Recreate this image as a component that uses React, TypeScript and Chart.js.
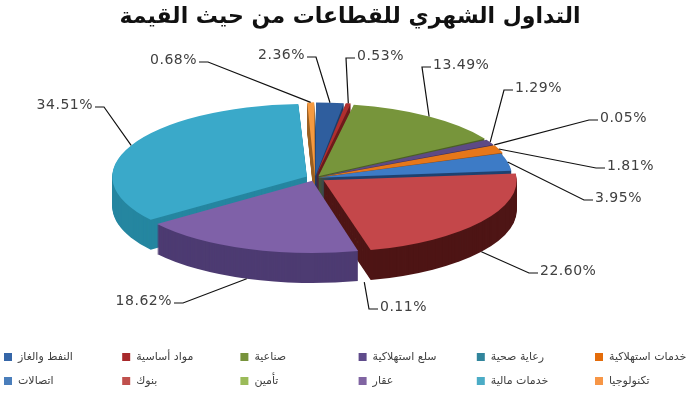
import React, { useEffect, useRef } from "react";
import { Chart, registerables } from "chart.js";

Chart.register(...registerables);

const chartTitle = "التداول الشهري للقطاعات من حيث القيمة";
const sectors = [
  "النفط والغاز",
  "مواد أساسية",
  "صناعية",
  "سلع استهلاكية",
  "رعاية صحية",
  "خدمات استهلاكية",
  "اتصالات",
  "بنوك",
  "تأمين",
  "عقار",
  "خدمات مالية",
  "تكنولوجيا",
];
const shares = [2.36, 0.53, 13.49, 1.29, 0.05, 1.81, 3.95, 22.6, 0.11, 18.62, 34.51, 0.68];
const valueLabels = ["2.36%", "0.53%", "13.49%", "1.29%", "0.05%", "1.81%", "3.95%", "22.60%", "0.11%", "18.62%", "34.51%", "0.68%"];

const topColors = [
  "#2f5e9e", "#b02f2f", "#77953b", "#5d4a85", "#2f8aa0", "#e6771a",
  "#3d7bc6", "#c4474a", "#a3c25f", "#7f61a8", "#3aa9c9", "#f59a40",
];
const sideColors = [
  "#1e3d68", "#6e1c1c", "#4b5f24", "#3b2e56", "#1d5766", "#934a10",
  "#1f4270", "#4e1515", "#4f6a22", "#4d3b72", "#2586a0", "#9c6024",
];
const legendColors = [
  "#3566a8", "#a8292b", "#77933c", "#5f4b8b", "#31859c", "#e46c0a",
  "#4a7ebb", "#c0504d", "#9bbb59", "#8064a2", "#4bacc6", "#f79646",
];
// explosion of each slice (Chart.js offset units)
const explode = [20, 20, 24, 14, 14, 14, 10, 42, 24, 32, 36, 20];

// label placement (text anchor x, y, side of elbow)
const labelSpots: { x: number; y: number; side: "L" | "R" }[] = [
  { x: 305, y: 55, side: "L" },
  { x: 357, y: 56, side: "R" },
  { x: 433, y: 65, side: "R" },
  { x: 515, y: 88, side: "R" },
  { x: 600, y: 118, side: "R" },
  { x: 607, y: 166, side: "R" },
  { x: 595, y: 198, side: "R" },
  { x: 540, y: 271, side: "R" },
  { x: 380, y: 307, side: "R" },
  { x: 172, y: 301, side: "L" },
  { x: 93, y: 105, side: "L" },
  { x: 197, y: 60, side: "L" },
];

const SQUASH = 0.373;
const DEPTH = 30;

function arcGeom(arc: any) {
  const p = arc.getProps(["x", "y", "startAngle", "endAngle", "outerRadius", "circumference"], true);
  const o = (arc.options.offset || 0) / 4;
  const h = (p.startAngle + p.endAngle) / 2;
  const fix = 1 - Math.sin(Math.min(Math.PI, p.circumference || 0));
  const ro = o * fix;
  const R = p.outerRadius + ro;
  const alpha = p.endAngle - p.startAngle;
  const beta = Math.max(0.001, alpha * R - ro / Math.PI) / R;
  const ao = (alpha - beta) / 2;
  return {
    baseY: p.y,
    cx: p.x + Math.cos(h) * o,
    cy: p.y + Math.sin(h) * o,
    R,
    a0: p.startAngle + ao,
    a1: p.endAngle - ao,
    h,
  };
}

function squash(ctx: CanvasRenderingContext2D, cy: number) {
  ctx.translate(0, cy);
  ctx.scale(1, SQUASH);
  ctx.translate(0, -cy);
}

const pie3d = {
  id: "pie3d",
  beforeDatasetsDraw(chart: any) {
    const ctx: CanvasRenderingContext2D = chart.ctx;
    const arcs = chart.getDatasetMeta(0).data;
    const geoms = arcs.map(arcGeom);
    const order = geoms.map((_: any, i: number) => i).sort((i: number, j: number) => Math.sin(geoms[i].h) - Math.sin(geoms[j].h));
    for (const i of order) {
      const g = geoms[i];
      ctx.fillStyle = sideColors[i];
      for (let d = DEPTH; d >= 1; d--) {
        ctx.save();
        ctx.translate(0, d);
        squash(ctx, g.baseY);
        ctx.beginPath();
        ctx.moveTo(g.cx, g.cy);
        ctx.arc(g.cx, g.cy, g.R, g.a0, g.a1);
        ctx.closePath();
        ctx.fill();
        ctx.restore();
      }
    }
    ctx.save();
    squash(ctx, geoms[0].baseY);
  },
  afterDatasetsDraw(chart: any) {
    const ctx: CanvasRenderingContext2D = chart.ctx;
    ctx.restore();
    const arcs = chart.getDatasetMeta(0).data;
    arcs.forEach((arc: any, i: number) => {
      const g = arcGeom(arc);
      const front = Math.sin(g.h) > 0.3;
      const ax = g.cx + Math.cos(g.h) * g.R;
      const ay = g.baseY + (g.cy + Math.sin(g.h) * g.R - g.baseY) * SQUASH + (front ? DEPTH : 0);
      const s = labelSpots[i];
      const ey = s.y + 2;
      const ex = s.side === "R" ? s.x - 11 : s.x + 11;
      const tx = s.side === "R" ? s.x - 2 : s.x + 2;
      ctx.save();
      ctx.strokeStyle = "#111";
      ctx.lineWidth = 1.2;
      ctx.beginPath();
      ctx.moveTo(ax, ay);
      ctx.lineTo(ex, ey);
      ctx.lineTo(tx, ey);
      ctx.stroke();
      ctx.fillStyle = "#404040";
      ctx.font = '14px "DejaVu Sans"';
      (ctx as any).letterSpacing = "0.5px";
      ctx.textBaseline = "middle";
      ctx.textAlign = s.side === "R" ? "left" : "right";
      ctx.fillText(valueLabels[i], s.x, s.y);
      ctx.restore();
    });
  },
  afterDraw(chart: any) {
    const ctx: CanvasRenderingContext2D = chart.ctx;
    ctx.save();
    ctx.fillStyle = "#111";
    ctx.font = 'bold 22px "DejaVu Sans"';
    ctx.textAlign = "center";
    ctx.textBaseline = "middle";
    ctx.fillText(chartTitle, 350, 17);
    ctx.font = '11px "DejaVu Sans"';
    ctx.textBaseline = "middle";
    sectors.forEach((name, i) => {
      const row = Math.floor(i / 6);
      const col = i % 6;
      const x = 4 + col * 118.2;
      const y = 357 + row * 24;
      ctx.fillStyle = legendColors[i];
      ctx.fillRect(x, y - 4, 8, 8);
      ctx.fillStyle = "#404040";
      ctx.textAlign = "left";
      ctx.fillText(name, x + 14, y);
    });
    ctx.restore();
  },
};

export default function App() {
  const ref = useRef<HTMLCanvasElement>(null);
  useEffect(() => {
    if (!ref.current) return;
    const chart = new Chart(ref.current, {
      type: "pie",
      data: {
        labels: sectors,
        datasets: [
          {
            data: shares,
            backgroundColor: topColors,
            borderWidth: 0,
            offset: explode,
            hoverOffset: 0,
            radius: 193,
            clip: false,
          } as any,
        ],
      },
      options: {
        animation: false,
        responsive: false,
        events: [],
        layout: { padding: { left: 0, right: 70, top: 40, bottom: 77 } },
        plugins: {
          legend: { display: false },
          title: { display: false },
          tooltip: { enabled: false },
        },
      } as any,
      plugins: [pie3d as any],
    });
    return () => chart.destroy();
  }, []);
  return (
    <div style={{ position: "fixed", left: 0, top: 0, width: 700, height: 393, background: "#fff" }}>
      <canvas ref={ref} width={700} height={393} style={{ display: "block" }} />
    </div>
  );
}
